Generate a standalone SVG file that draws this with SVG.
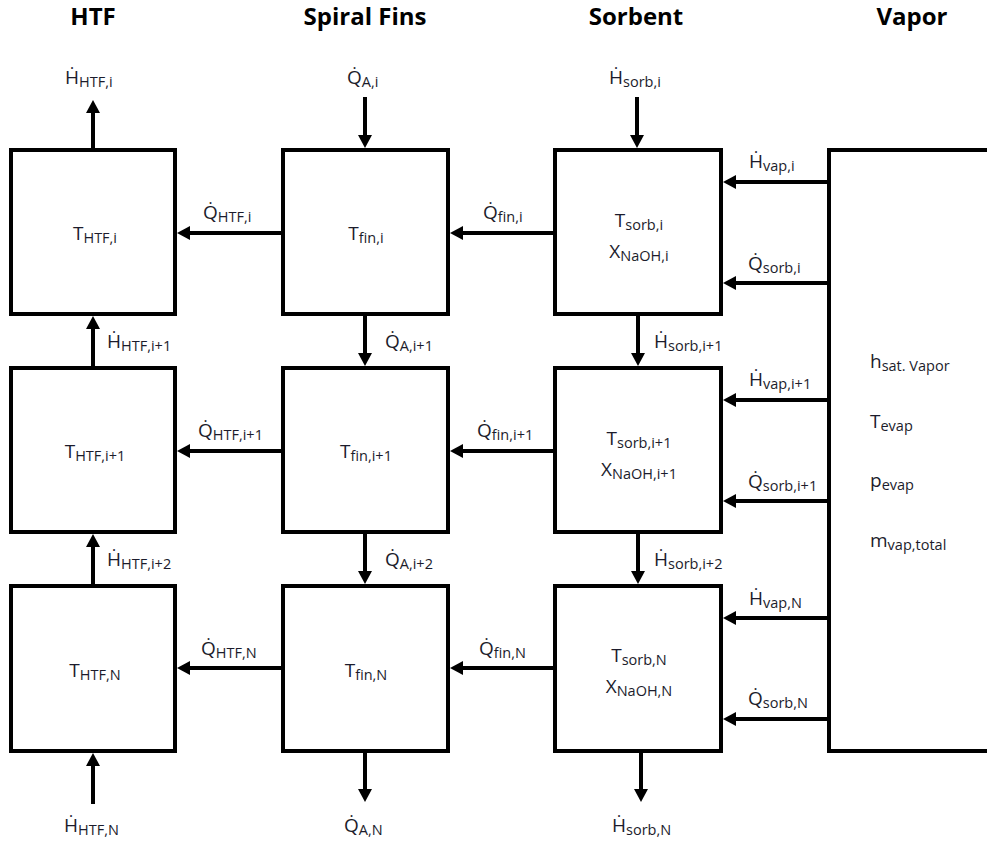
<svg xmlns="http://www.w3.org/2000/svg" width="987" height="845" viewBox="0 0 987 845">
<style>
.box{fill:#fff;stroke:#000;stroke-width:4}
.ln{stroke:#000;stroke-width:4;fill:none;marker-end:url(#ah)}
.hd{font-family:"Open Sans","DejaVu Sans",sans-serif;font-weight:bold;font-size:24px;fill:#000;text-anchor:middle}
.t{font-family:"Open Sans","DejaVu Sans",sans-serif;font-size:19px;fill:#1c1c2c}
.m{text-anchor:middle}
.s{font-size:14.5px}
</style>
<defs>
<marker id="ah" markerUnits="userSpaceOnUse" markerWidth="14" markerHeight="14" refX="5" refY="7" orient="auto" viewBox="0 0 14 14">
<path d="M0,0 L13,7 L0,14 z" fill="#000"/>
</marker>
</defs>
<rect width="987" height="845" fill="#fff"/>
<g id="headers">
<text class="hd" x="93" y="25">HTF</text>
<text class="hd" x="365" y="25">Spiral Fins</text>
<text class="hd" x="636" y="25">Sorbent</text>
<text class="hd" x="912" y="25">Vapor</text>
</g>
<g id="htf1"><rect class="box" x="11" y="150" width="164" height="164"/><text class="t m" x="95" y="240">T<tspan class="s" dy="3">HTF,i</tspan></text></g>
<g id="htf2"><rect class="box" x="11" y="368" width="164" height="164"/><text class="t m" x="95" y="458">T<tspan class="s" dy="3">HTF,i+1</tspan></text></g>
<g id="htf3"><rect class="box" x="11" y="586" width="164" height="165"/><text class="t m" x="95" y="677">T<tspan class="s" dy="3">HTF,N</tspan></text></g>
<g id="fin1"><rect class="box" x="283" y="150" width="165" height="164"/><text class="t m" x="366" y="240">T<tspan class="s" dy="3">fin,i</tspan></text></g>
<g id="fin2"><rect class="box" x="283" y="368" width="165" height="164"/><text class="t m" x="366" y="458">T<tspan class="s" dy="3">fin,i+1</tspan></text></g>
<g id="fin3"><rect class="box" x="283" y="586" width="165" height="165"/><text class="t m" x="366" y="677">T<tspan class="s" dy="3">fin,N</tspan></text></g>
<g id="sorb1"><rect class="box" x="555" y="150" width="166" height="164"/><text class="t m" x="639" y="227">T<tspan class="s" dy="3">sorb,i</tspan></text><text class="t m" x="639" y="258">X<tspan class="s" dy="3">NaOH,i</tspan></text></g>
<g id="sorb2"><rect class="box" x="555" y="368" width="166" height="164"/><text class="t m" x="639" y="445">T<tspan class="s" dy="3">sorb,i+1</tspan></text><text class="t m" x="639" y="476">X<tspan class="s" dy="3">NaOH,i+1</tspan></text></g>
<g id="sorb3"><rect class="box" x="555" y="586" width="166" height="165"/><text class="t m" x="639" y="662">T<tspan class="s" dy="3">sorb,N</tspan></text><text class="t m" x="639" y="693">X<tspan class="s" dy="3">NaOH,N</tspan></text></g>
<g id="vapor"><rect class="box" x="829" y="150" width="200" height="601"/>
<text class="t" x="870" y="368">h<tspan class="s" dy="3">sat. Vapor</tspan></text>
<text class="t" x="870" y="428">T<tspan class="s" dy="3">evap</tspan></text>
<text class="t" x="870" y="487">p<tspan class="s" dy="3">evap</tspan></text>
<text class="t" x="870" y="547">m<tspan class="s" dy="3">vap,total</tspan></text>
</g>
<g id="connectors">
<line class="ln" x1="93" y1="150" x2="93" y2="108"/>
<line class="ln" x1="93" y1="368" x2="93" y2="324"/>
<line class="ln" x1="93" y1="586" x2="93" y2="542"/>
<line class="ln" x1="93" y1="804" x2="93" y2="761"/>
<line class="ln" x1="365" y1="97" x2="365" y2="140"/>
<line class="ln" x1="365" y1="314" x2="365" y2="358"/>
<line class="ln" x1="365" y1="532" x2="365" y2="576"/>
<line class="ln" x1="365" y1="751" x2="365" y2="794"/>
<line class="ln" x1="637" y1="97" x2="637" y2="140"/>
<line class="ln" x1="638" y1="314" x2="638" y2="358"/>
<line class="ln" x1="638" y1="532" x2="638" y2="576"/>
<line class="ln" x1="641" y1="751" x2="641" y2="794"/>
<line class="ln" x1="283" y1="233" x2="185" y2="233"/>
<line class="ln" x1="283" y1="451" x2="185" y2="451"/>
<line class="ln" x1="283" y1="668" x2="185" y2="668"/>
<line class="ln" x1="555" y1="233" x2="458" y2="233"/>
<line class="ln" x1="555" y1="451" x2="458" y2="451"/>
<line class="ln" x1="555" y1="668" x2="458" y2="668"/>
<line class="ln" x1="829" y1="182" x2="731" y2="182"/>
<line class="ln" x1="829" y1="283" x2="731" y2="283"/>
<line class="ln" x1="829" y1="400" x2="731" y2="400"/>
<line class="ln" x1="829" y1="501" x2="731" y2="501"/>
<line class="ln" x1="829" y1="618" x2="731" y2="618"/>
<line class="ln" x1="829" y1="719" x2="731" y2="719"/>
<text class="t" x="65" y="84">Ḣ<tspan class="s" dy="3">HTF,i</tspan></text>
<text class="t" x="347" y="84">Q̇<tspan class="s" dy="3">A,i</tspan></text>
<text class="t" x="609" y="84">Ḣ<tspan class="s" dy="3">sorb,i</tspan></text>
<text class="t" x="203" y="219">Q̇<tspan class="s" dy="3">HTF,i</tspan></text>
<text class="t" x="483" y="219">Q̇<tspan class="s" dy="3">fin,i</tspan></text>
<text class="t" x="749" y="168">Ḣ<tspan class="s" dy="3">vap,i</tspan></text>
<text class="t" x="748" y="270">Q̇<tspan class="s" dy="3">sorb,i</tspan></text>
<text class="t" x="107" y="348">Ḣ<tspan class="s" dy="3">HTF,i+1</tspan></text>
<text class="t" x="385" y="348">Q̇<tspan class="s" dy="3">A,i+1</tspan></text>
<text class="t" x="654" y="348">Ḣ<tspan class="s" dy="3">sorb,i+1</tspan></text>
<text class="t" x="198" y="437">Q̇<tspan class="s" dy="3">HTF,i+1</tspan></text>
<text class="t" x="477" y="437">Q̇<tspan class="s" dy="3">fin,i+1</tspan></text>
<text class="t" x="749" y="386">Ḣ<tspan class="s" dy="3">vap,i+1</tspan></text>
<text class="t" x="748" y="488">Q̇<tspan class="s" dy="3">sorb,i+1</tspan></text>
<text class="t" x="107" y="566">Ḣ<tspan class="s" dy="3">HTF,i+2</tspan></text>
<text class="t" x="385" y="566">Q̇<tspan class="s" dy="3">A,i+2</tspan></text>
<text class="t" x="654" y="566">Ḣ<tspan class="s" dy="3">sorb,i+2</tspan></text>
<text class="t" x="201" y="655">Q̇<tspan class="s" dy="3">HTF,N</tspan></text>
<text class="t" x="479" y="655">Q̇<tspan class="s" dy="3">fin,N</tspan></text>
<text class="t" x="749" y="605">Ḣ<tspan class="s" dy="3">vap,N</tspan></text>
<text class="t" x="748" y="705">Q̇<tspan class="s" dy="3">sorb,N</tspan></text>
<text class="t" x="64" y="832">Ḣ<tspan class="s" dy="3">HTF,N</tspan></text>
<text class="t" x="344" y="832">Q̇<tspan class="s" dy="3">A,N</tspan></text>
<text class="t" x="612" y="832">Ḣ<tspan class="s" dy="3">sorb,N</tspan></text>
</g>
</svg>
